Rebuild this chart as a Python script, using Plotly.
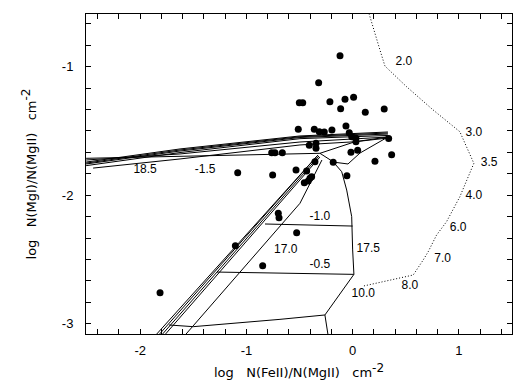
import plotly.graph_objects as go

# observed absorbers: log N(FeII)/N(MgII), log N(MgI)/N(MgII)
obs_fe = [-0.119, -0.320, -0.502, -0.470, -0.214, -0.072, 0.009, -0.113, 0.119, 0.297,
          -0.512, -0.361, -0.314, -0.267, -0.195, -0.063, -0.032, -0.009, 0.031, 0.031,
          0.339, -0.408, -0.345, -0.345, -0.762, -0.731, -0.662, -0.016, 0.047, 0.367,
          0.210, -0.183, -0.355, -1.082, -0.753, -0.533, -0.433, -0.054, -0.386, -0.402,
          -0.418, -0.455, -0.700, -0.693, -0.527, -1.104, -0.847, -1.813]
obs_mg = [-0.914, -1.125, -1.280, -1.280, -1.272, -1.254, -1.238, -1.327, -1.355, -1.329,
          -1.487, -1.487, -1.506, -1.508, -1.493, -1.461, -1.514, -1.545, -1.557, -1.584,
          -1.559, -1.612, -1.596, -1.635, -1.669, -1.669, -1.669, -1.666, -1.651, -1.685,
          -1.736, -1.744, -1.739, -1.825, -1.843, -1.804, -1.812, -1.848, -1.856, -1.868,
          -1.890, -1.903, -2.141, -2.175, -2.292, -2.393, -2.549, -2.759]

# model grid curves (x = log FeII/MgII, y = log MgI/MgII)
grid_curves = {
    "upper1": ([-2.509, -1.625, -0.496, 0.332], [-1.742, -1.640, -1.539, -1.508]),
    "upper1b": ([-2.509, -1.625, -0.496, 0.332], [-1.750, -1.648, -1.545, -1.516]),
    "upper2": ([-2.509, -1.625, -0.496, 0.332], [-1.757, -1.656, -1.551, -1.524]),
    "upper3": ([-2.509, -1.625, -0.496, 0.332], [-1.770, -1.668, -1.560, -1.535]),
    "upper4": ([-2.509, -1.625, -0.496, 0.332], [-1.726, -1.679, -1.586, -1.547]),
    "upper5": ([-2.443, -1.625, -0.496, 0.022, 0.332], [-1.789, -1.718, -1.609, -1.584, -1.555]),
    "U-1.5": ([-2.509, -0.308], [-1.713, -1.674]),
    "tip": ([-0.308, 0.022, 0.332], [-1.674, -1.584, -1.547]),
    "quad": ([-0.185, -0.044, 0.069, 0.332], [-1.742, -1.757, -1.672, -1.547]),
    "diag1": ([-1.844, -0.326], [-3.080, -1.687]),
    "diag2": ([-1.817, -0.326], [-3.080, -1.687]),
    "diag3": ([-1.789, -0.317], [-3.080, -1.695]),
    "diag4": ([-1.761, -0.308], [-3.080, -1.703]),
    "N17.0": ([-1.568, -0.496, -0.289], [-3.080, -2.063, -1.726]),
    "U-1.0": ([-0.825, 0.0], [-2.224, -2.240]),
    "U-0.5": ([-1.277, 0.012], [-2.598, -2.616]),
    "U0.0": ([-1.728, -1.500, -0.684, -0.261], [-3.010, -3.023, -2.966, -2.932]),
    "N17.5": ([-0.230, -0.261, 0.012, 0.0, -0.009, -0.056, -0.103, -0.185, -0.308],
              [-3.096, -2.932, -2.616, -2.426, -2.167, -1.960, -1.817, -1.739, -1.674]),
}

# dotted track
dot_x = [0.120, 0.156, 0.257, 0.304, 0.508, 0.758, 1.009, 1.141, 1.009, 0.884, 0.790, 0.711, 0.664, 0.570, 0.100]
dot_y = [-0.450, -0.592, -0.870, -0.995, -1.156, -1.337, -1.506, -1.752, -2.012, -2.206, -2.310, -2.440, -2.504, -2.621, -2.707]

# labels
lab_text = ["18.5", "-1.5", "-1.0", "17.0", "-0.5", "17.5", "10.0", "8.0", "7.0", "6.0", "4.0", "3.5", "3.0", "2.0"]
lab_x = [-1.954, -1.389, -0.308, -0.630, -0.308, 0.147, 0.100, 0.539, 0.847, 0.993, 1.141, 1.285, 1.141, 0.483]
lab_y = [-1.804, -1.804, -2.167, -2.426, -2.543, -2.421, -2.769, -2.707, -2.499, -2.258, -2.006, -1.752, -1.514, -0.961]

x_ticks = [-2, -1, 0, 1]
x_ticklabels = ["-2", "-1", "0", "1"]
y_ticks = [-3, -2, -1]
y_ticklabels = ["-3", "-2", "-1"]

FONT = "Liberation Sans, Arial"
TFONT = "DejaVu Sans, Liberation Sans"
SP = "\u00a0\u00a0\u00a0"
SUP = "cm<sup><span style='font-size:12px'>-2</span></sup>"

fig = go.Figure()
for name, (cx, cy) in grid_curves.items():
    fig.add_trace(go.Scatter(x=cx, y=cy, mode="lines", line=dict(color="black", width=1),
                             showlegend=False, hoverinfo="skip"))
fig.add_trace(go.Scatter(x=dot_x, y=dot_y, mode="lines",
                         line=dict(color="black", width=1, dash="1px,2px"), showlegend=False))
fig.add_trace(go.Scatter(x=obs_fe, y=obs_mg, mode="markers",
                         marker=dict(color="black", size=7, line=dict(width=0)), showlegend=False))
fig.add_trace(go.Scatter(x=lab_x, y=lab_y, mode="text", text=lab_text,
                         textfont=dict(family=FONT, size=12, color="black"), showlegend=False))

axis_common = dict(showline=True, linecolor="black", linewidth=1, mirror="allticks",
                   ticks="inside", ticklen=5, tickcolor="black", showgrid=False, zeroline=False,
                   tickfont=dict(family=FONT, size=13, color="black"))
fig.update_xaxes(range=[-2.51, 1.5], tickmode="array", tickvals=x_ticks, ticktext=x_ticklabels,
                 minor=dict(tickmode="linear", tick0=0, dtick=0.2, ticks="inside", ticklen=5, tickcolor="black"),
                 ticklabelstandoff=4,
                 title=dict(text="log" + SP + "N(FeII)/N(MgII)" + SP + SUP, standoff=11,
                            font=dict(family=TFONT, size=13, color="black")),
                 **axis_common)
fig.update_yaxes(range=[-3.08, -0.59], tickmode="array", tickvals=y_ticks, ticktext=y_ticklabels,
                 minor=dict(tickmode="linear", tick0=-1, dtick=1/6, ticks="inside", ticklen=5, tickcolor="black"),
                 ticklabelstandoff=9,
                 title=dict(text="log" + SP + "N(MgI)/N(MgII)" + SP + SUP, standoff=22,
                            font=dict(family=TFONT, size=13, color="black")),
                 **axis_common)
fig.update_layout(width=531, height=390, margin=dict(l=86, r=19, t=14, b=56, autoexpand=False),
                  paper_bgcolor="white", plot_bgcolor="white", showlegend=False)
fig.write_html("out.html", post_script="document.body.style.margin='0px';",
               config={"displayModeBar": False})
